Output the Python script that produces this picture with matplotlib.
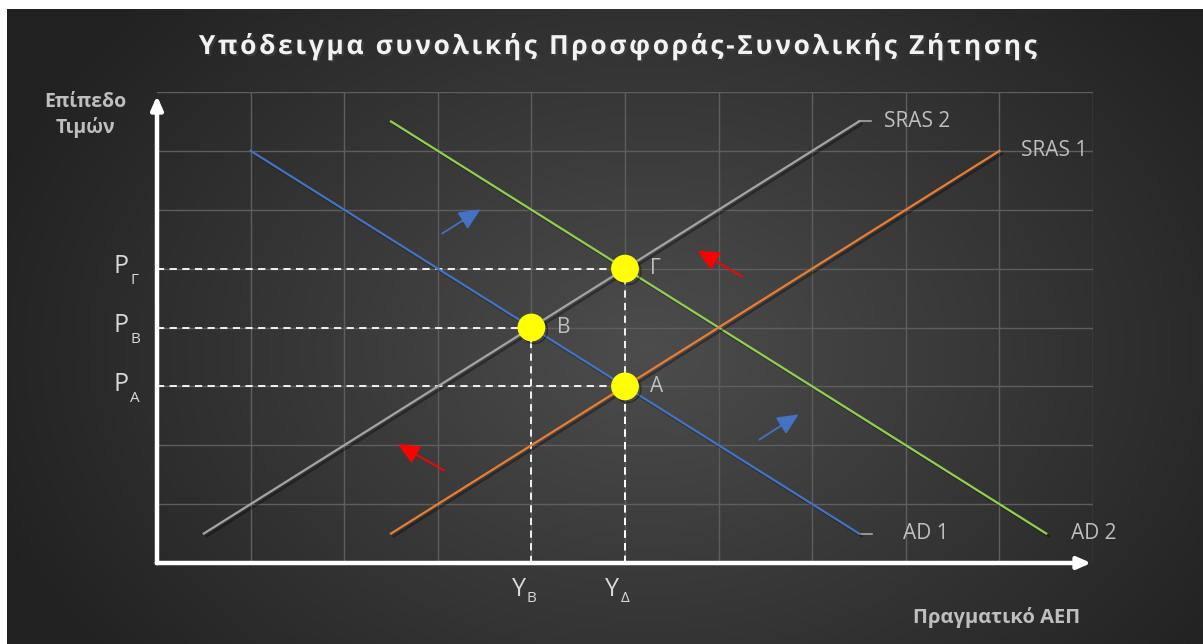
import numpy as np
import matplotlib
matplotlib.use('Agg')
import matplotlib.pyplot as plt
import matplotlib.patheffects as pe

plt.rcParams['font.family'] = ['Open Sans', 'DejaVu Sans']

# curves (x = real GDP, y = price level, grid units)
ad1_x, ad1_y = [1, 7.5], [7, 0.5]
ad2_x, ad2_y = [2.5, 9.5], [7.5, 0.5]
sras1_x, sras1_y = [2.5, 9], [0.5, 7]
sras2_x, sras2_y = [0.5, 7.5], [0.5, 7.5]

# equilibrium points
eq_names = ['Γ', 'B', 'A']
eq_x = [5, 4, 5]
eq_y = [5, 4, 3]

# tick-like labels
p_subs = ['Γ', 'B', 'A']
p_levels = [5, 4, 3]
y_subs = ['B', 'Δ']
y_levels = [4, 5]

# shift arrows (start -> end)
blue_arrows = [((3.02, 5.57), (3.48, 6.03)), ((6.41, 2.07), (6.88, 2.55))]
red_arrows = [((6.28, 4.84), (5.75, 5.33)), ((3.09, 1.55), (2.55, 2.04))]

W, H = 1203, 644
fig = plt.figure(figsize=(W / 100, H / 100), dpi=100, facecolor='white')

# dark radial background
bg = fig.add_axes([7 / W, 0, 1 - 7 / W, 1 - 9 / H])
bg.set_axis_off()
yy, xx = np.mgrid[0:635, 0:1196]
r = np.sqrt(((xx - 640) / 700.0) ** 2 + ((yy - 340) / 520.0) ** 2)
shade = np.clip(0.30 - 0.17 * r, 0.13, 0.30)
bg.imshow(np.dstack([shade] * 3), aspect='auto', extent=[0, 1, 0, 1])

def px(x):
    return (x - 157) / 93.6

def py(y):
    return (563 - y) / 58.875

ax = fig.add_axes([157 / W, (H - 563) / H, (1093 - 157) / W, (563 - 92) / H])
ax.set_xlim(0, 10)
ax.set_ylim(0, 8)
ax.patch.set_alpha(0)
for s in ax.spines.values():
    s.set_visible(False)
ax.set_xticks([])
ax.set_yticks([])
for gx in range(1, 11):
    ax.plot([gx, gx], [0, 8], color='#5e5e5e', lw=1, zorder=1)
for gy in range(1, 9):
    ax.plot([0, 10], [gy, gy], color='#5e5e5e', lw=1, zorder=1)

shadow = [pe.SimpleLineShadow(offset=(2, -2), alpha=0.35), pe.Normal()]
ax.plot(ad1_x, ad1_y, color='#4472c4', lw=1.6, zorder=3, path_effects=shadow)
ax.plot(ad2_x, ad2_y, color='#92d050', lw=1.6, zorder=3, path_effects=shadow)
ax.plot(sras1_x, sras1_y, color='#ed7d31', lw=1.6, zorder=3, path_effects=shadow)
ax.plot(sras2_x, sras2_y, color='#a5a5a5', lw=1.6, zorder=3, path_effects=shadow)

# leader lines + series labels
lab_col = '#bfbfbf'
ax.plot([sras2_x[1], sras2_x[1] + 0.13], [sras2_y[1], sras2_y[1]], color='#a5a5a5', lw=1.2, clip_on=False)
ax.plot([ad1_x[1], ad1_x[1] + 0.14], [ad1_y[1], ad1_y[1]], color='#a5a5a5', lw=1.2, clip_on=False)
ax.text(sras2_x[1] + 0.27, sras2_y[1], 'SRAS 2', color=lab_col, fontsize=15, va='center', ha='left')
ax.text(sras1_x[1] + 0.23, sras1_y[1], 'SRAS 1', color=lab_col, fontsize=15, va='center', ha='left')
ax.text(ad1_x[1] + 0.47, ad1_y[1], 'AD 1', color=lab_col, fontsize=15, va='center', ha='left')
ax.text(ad2_x[1] + 0.27, ad2_y[1], 'AD 2', color=lab_col, fontsize=15, va='center', ha='left')

# dashed guides
for x, y in zip(eq_x, eq_y):
    ax.plot([0, x], [y, y], color='white', lw=1.3, ls=(0, (4, 3)), zorder=2)
    ax.plot([x, x], [0, y], color='white', lw=1.3, ls=(0, (4, 3)), zorder=2)

# equilibrium points
ax.plot(eq_x, eq_y, 'o', ms=19, color='#ffff00', zorder=5,
        path_effects=[pe.SimpleLineShadow(offset=(2, -2), alpha=0.4), pe.Normal()])
for name, x, y in zip(eq_names, eq_x, eq_y):
    ax.text(x + 0.27, y, name, color=lab_col, fontsize=15, va='center', ha='left')

# shift arrows
head = '-|>,head_length=1.3,head_width=0.6'
for (x0, y0), (x1, y1) in blue_arrows:
    ax.annotate('', xy=(x1, y1), xytext=(x0, y0),
                arrowprops=dict(arrowstyle=head, color='#4472c4', lw=1.3))
for (x0, y0), (x1, y1) in red_arrows:
    ax.annotate('', xy=(x1, y1), xytext=(x0, y0),
                arrowprops=dict(arrowstyle=head, color='#ff0000', lw=1.3))

# axes arrows
ax.annotate('', xy=(0, py(93)), xytext=(0, py(566)), annotation_clip=False,
            arrowprops=dict(arrowstyle='-|>,head_length=0.8,head_width=0.35', color='white', lw=3.2))
ax.annotate('', xy=(px(1094), 0), xytext=(px(154), 0), annotation_clip=False,
            arrowprops=dict(arrowstyle='-|>,head_length=0.8,head_width=0.35', color='white', lw=3.2))

# P labels
for sub, lvl in zip(p_subs, p_levels):
    ax.text(px(128), lvl + 0.03, 'P', color='#d9d9d9', fontsize=18, ha='right', va='center', clip_on=False)
    ax.text(px(130), lvl - 0.2, sub, color='#d9d9d9', fontsize=11, ha='left', va='center', clip_on=False)

# Y labels
for sub, lvl in zip(y_subs, y_levels):
    ax.text(lvl - 0.06, py(589), 'Y', color='#d9d9d9', fontsize=18, ha='right', va='center', clip_on=False)
    ax.text(lvl - 0.05, py(599), sub, color='#d9d9d9', fontsize=11, ha='left', va='center', clip_on=False)

# axis titles
fig.text(85 / W, 1 - 115 / H, 'Επίπεδο\nΤιμών', color='#bfbfbf', fontsize=14, fontweight='bold',
         ha='center', va='center', linespacing=1.3)
fig.text(997 / W, 1 - 617 / H, 'Πραγματικό ΑΕΠ', color='#bfbfbf', fontsize=14.5, fontweight='bold',
         ha='center', va='center')

title = 'Υπόδειγμα συνολικής Προσφοράς-Συνολικής Ζήτησης'
fig.text(616 / W, 1 - 46 / H, '\u200a'.join(title), color='#f2f2f2', fontsize=19, fontweight='bold',
         ha='center', va='center',
         path_effects=[pe.withSimplePatchShadow(offset=(1.5, -1.5), alpha=0.5)])

fig.savefig('out.png', dpi=100, facecolor='white')
